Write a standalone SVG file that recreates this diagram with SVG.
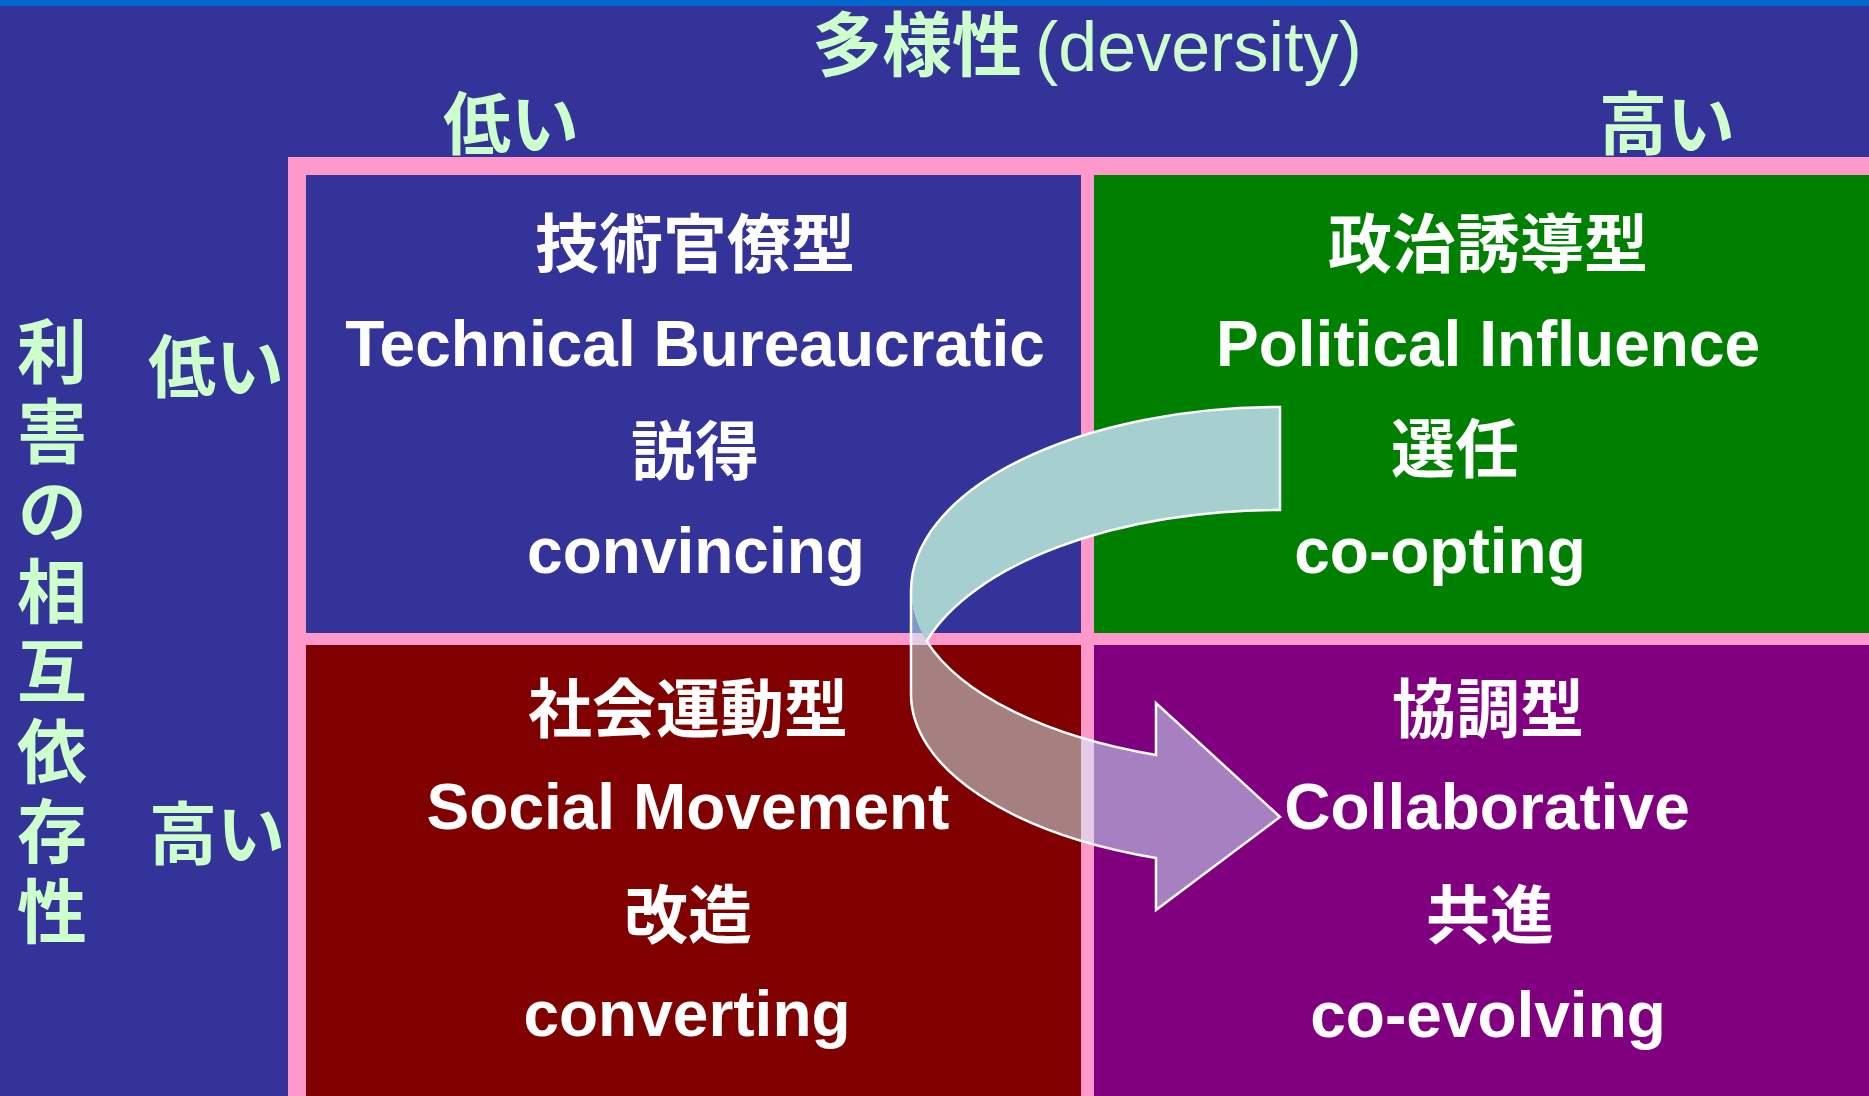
<svg xmlns="http://www.w3.org/2000/svg" width="1869" height="1096" viewBox="0 0 1869 1096">
<style>
.jp{font-family:"Noto Sans CJK JP","Noto Sans CJK SC",sans-serif;font-weight:700;}
.en{font-family:"Liberation Sans",Arial,sans-serif;font-weight:700;}
.enr{font-family:"Liberation Sans",Arial,sans-serif;font-weight:400;}
.w{fill:#FFFFFF;text-anchor:middle;font-size:64px;}
.g{fill:#CCFFCC;}
.gm{fill:#CCFFCC;text-anchor:middle;font-size:68px;}
.v{fill:#CCFFCC;font-size:70px;writing-mode:vertical-rl;letter-spacing:10px;}
</style>
<rect x="0" y="0" width="1869" height="1096" fill="#333399"/>
<rect x="0" y="0" width="1869" height="6" fill="#0066CC"/>

<g id="title">
<text y="71" class="g" font-size="70"><tspan class="jp" x="812">多様性</tspan><tspan class="enr" x="1035">(deversity)</tspan></text>
</g>
<g id="axis-x-low"><text x="511" y="149" class="jp gm">低い</text></g>
<g id="axis-x-high"><text x="1667" y="149" class="jp gm">高い</text></g>
<g id="axis-y-title">
<text class="jp v" x="52" y="316">利害の相互依存性</text>
</g>
<g id="axis-y-low"><text x="216" y="392" class="jp gm">低い</text></g>
<g id="axis-y-high"><text x="217" y="859" class="jp gm">高い</text></g>

<rect id="frame" x="288" y="157" width="1581" height="939" fill="#FF99CC"/>

<g id="technical-bureaucratic">
<rect x="306" y="175" width="775" height="458" fill="#333399"/>
<text x="695" y="267" class="jp w">技術官僚型</text>
<text x="695" y="366" class="en w">Technical Bureaucratic</text>
<text x="695" y="474" class="jp w">説得</text>
<text x="696" y="573" class="en w">convincing</text>
</g>
<g id="political-influence">
<rect x="1094" y="175" width="775" height="458" fill="#008000"/>
<text x="1488" y="267" class="jp w">政治誘導型</text>
<text x="1488" y="366" class="en w">Political Influence</text>
<text x="1455" y="472" class="jp w">選任</text>
<text x="1440" y="573" class="en w">co-opting</text>
</g>
<g id="social-movement">
<rect x="306" y="645" width="775" height="451" fill="#800000"/>
<text x="688" y="732" class="jp w">社会運動型</text>
<text x="688" y="829" class="en w">Social Movement</text>
<text x="688" y="938" class="jp w">改造</text>
<text x="687" y="1036" class="en w">converting</text>
</g>
<g id="collaborative">
<rect x="1094" y="645" width="775" height="451" fill="#800080"/>
<text x="1488" y="732" class="jp w">協調型</text>
<text x="1487" y="829" class="en w">Collaborative</text>
<text x="1490" y="938" class="jp w">共進</text>
<text x="1488" y="1037" class="en w">co-evolving</text>
</g>

<g id="connectors">
<path d="M 911 591 L 911 694 A 369 174 0 0 0 1156 858 L 1156 910 L 1280 817 L 1156 703 L 1156 755 A 369 174 0 0 1 911 591 Z" fill="#CCFFFF" fill-opacity="0.5"/>
<path d="M 1280 407 A 369 184 0 0 0 911 591 A 369 174 0 0 0 926.6 641.1 A 369 184 0 0 1 1280 510 Z" fill="#A6CFCF"/>
<path d="M 1280 407 A 369 184 0 0 0 911 591 L 911 694 A 369 174 0 0 0 1156 858 L 1156 910 L 1280 817 L 1156 703 L 1156 755 A 369 174 0 0 1 926.6 641.1 A 369 184 0 0 1 1280 510 Z" fill="none" stroke="#FFFFFF" stroke-width="2.5" stroke-linejoin="miter"/>
</g>
</svg>
